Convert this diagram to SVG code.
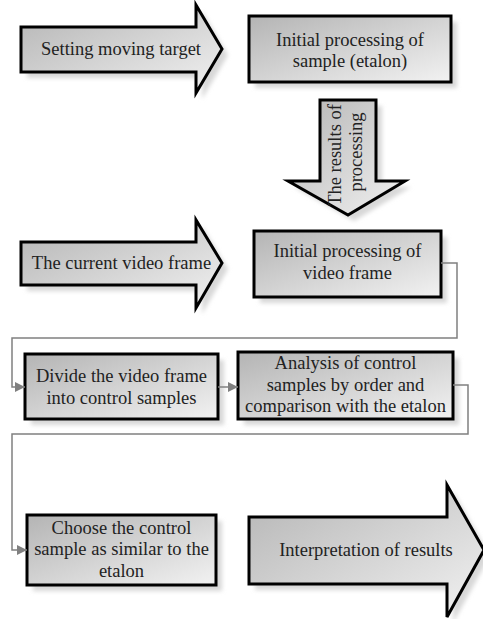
<svg xmlns="http://www.w3.org/2000/svg" width="483" height="619" viewBox="0 0 483 619">
<defs>
<linearGradient id="g" x1="0" y1="0" x2="1" y2="1">
<stop offset="0" stop-color="#b4b4b4"/>
<stop offset="1" stop-color="#f2f2f2"/>
</linearGradient>
<filter id="sh" x="-10%" y="-10%" width="130%" height="130%">
<feGaussianBlur stdDeviation="2"/>
</filter>
<marker id="ah" viewBox="0 0 10 10" refX="10" refY="5" markerWidth="10" markerHeight="10" markerUnits="userSpaceOnUse" orient="auto">
<path d="M0,0 L10,5 L0,10 Z" fill="#808080"/>
</marker>
</defs>
<style>
.shape{fill:url(#g);stroke:#000;stroke-width:3;stroke-linejoin:miter}
.shadow{fill:#d8d8d8;stroke:none;filter:url(#sh)}
.t{font-family:"Liberation Serif","Times New Roman",serif;font-size:18.5px;fill:#222;text-anchor:middle}
.c{fill:none;stroke:#808080;stroke-width:1.5}
</style>
<rect width="483" height="619" fill="#fff"/>

<g id="node-setting">
<polygon class="shadow" transform="translate(6,6)" points="21,27 196,27 196,5 222,49 196,93 196,72 21,72"/>
<polygon class="shape" points="21,27 196,27 196,5 222,49 196,93 196,72 21,72"/>
<text class="t" x="121" y="55">Setting moving target</text>
</g>

<g id="node-initial-sample">
<rect class="shadow" x="255" y="22" width="202" height="66"/>
<rect class="shape" x="249" y="16" width="202" height="66"/>
<text class="t" x="350" y="45.5">Initial processing of</text>
<text class="t" x="350" y="66.5">sample (etalon)</text>
</g>

<g id="node-results">
<polygon class="shadow" transform="translate(6,6)" points="320,100 376,100 376,181 405,181 348,215 288,181 320,181"/>
<polygon class="shape" points="320,100 376,100 376,181 405,181 348,215 288,181 320,181"/>
<text class="t" transform="translate(341,155) rotate(-90)">The results of</text>
<text class="t" transform="translate(362,152) rotate(-90)">processing</text>
</g>

<g id="node-current">
<polygon class="shadow" transform="translate(6,6)" points="21,242 196,242 196,220 222,263 196,308 196,285 21,285"/>
<polygon class="shape" points="21,242 196,242 196,220 222,263 196,308 196,285 21,285"/>
<text class="t" x="121.5" y="268.5">The current video frame</text>
</g>

<g id="node-initial-frame">
<rect class="shadow" x="260" y="237" width="187" height="66"/>
<rect class="shape" x="254" y="231" width="187" height="66"/>
<text class="t" x="347.5" y="257">Initial processing of</text>
<text class="t" x="347.5" y="278.5">video frame</text>
</g>

<g id="node-divide">
<rect class="shadow" x="31" y="360" width="193" height="65"/>
<rect class="shape" x="25" y="354" width="193" height="65"/>
<text class="t" x="121.5" y="381.5">Divide the video frame</text>
<text class="t" x="121.5" y="403.5">into control samples</text>
</g>

<g id="node-analysis">
<rect class="shadow" x="244" y="358" width="215" height="67"/>
<rect class="shape" x="238" y="352" width="215" height="67"/>
<text class="t" x="345.5" y="369">Analysis of control</text>
<text class="t" x="345.5" y="390.5">samples by order and</text>
<text class="t" x="345.5" y="412">comparison with the etalon</text>
</g>

<g id="node-choose">
<rect class="shadow" x="33" y="521" width="189" height="70"/>
<rect class="shape" x="27" y="515" width="189" height="70"/>
<text class="t" x="121.5" y="533.5">Choose the control</text>
<text class="t" x="121.5" y="555">sample as similar to the</text>
<text class="t" x="121.5" y="576.5">etalon</text>
</g>

<g id="node-interpretation">
<polygon class="shadow" transform="translate(6,6)" points="249,517 447,517 447,485 484,550 447,617 447,584 249,584"/>
<polygon class="shape" points="249,517 447,517 447,485 484,550 447,617 447,584 249,584"/>
<text class="t" x="366" y="555.5">Interpretation of results</text>
</g>

<g id="connectors">
<path class="c" d="M441,263 H457 V338 H12 V387 H25" marker-end="url(#ah)"/>
<path class="c" d="M218,387 H238" marker-end="url(#ah)"/>
<path class="c" d="M453,385 H468 V434 H12 V550 H27" marker-end="url(#ah)"/>
</g>
</svg>
